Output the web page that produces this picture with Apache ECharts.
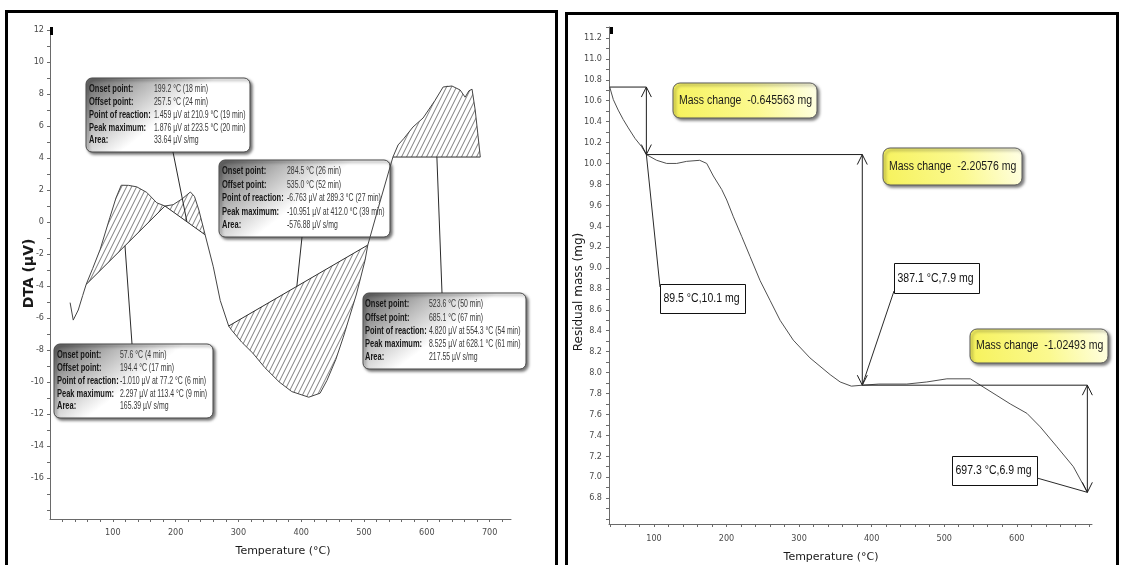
<!DOCTYPE html>
<html>
<head>
<meta charset="utf-8">
<script src="https://cdn.jsdelivr.net/npm/echarts@6/dist/echarts.min.js"></script>
<style>
  html, body { margin: 0; padding: 0; background: #fff; }
  #chart { width: 1121px; height: 565px; }
</style>
</head>
<body>
<div id="chart"></div>
<script>
// ---------- DTA trace: temperature (°C) and signal (µV) ----------
const dtaTemp = [32, 37, 45, 52, 57.6, 68, 80, 95.5, 105, 113.4, 125, 138, 154, 170, 183,
  196, 210.9, 223.5, 230, 237, 247, 260, 271, 284.5, 289.3, 305, 323, 342, 365, 385,
  412, 430, 441, 455, 467, 488, 501.6, 506, 525, 546, 554.3, 563, 578, 594, 613, 626,
  628.1, 640, 653, 661, 667, 672, 677, 681.5, 685.1];
const dtaSignal = [-5.04, -6.13, -5.5, -4.6, -3.9, -2.9, -1.7, 0.3, 1.5, 2.297, 2.29, 2.2, 1.85, 1.2, 1.0,
  1.08, 1.459, 1.876, 1.6, 0.75, -0.8, -2.8, -4.9, -6.5, -6.763, -7.5, -8.2, -9.1, -10.0, -10.6,
  -10.951, -10.7, -9.9, -8.6, -7.2, -4.5, -2.4, -1.44, 1.2, 4.06, 4.82, 5.2, 5.94, 6.5, 7.6, 8.44,
  8.525, 8.5, 8.25, 7.8, 8.2, 8.3, 7.0, 5.4, 4.06];

// Integrated DTA peaks: start / end temperature of each hatched area on the trace
const peakStartTemp = [57.6, 183, 284.5, 546];
const peakEndTemp = [183, 247, 506, 685.1];
// Temperature at which each report's pointer meets the peak baseline
const peakPointerTemp = [119.4, 218, 393, 616];

const peakReportRows = ['Onset point:', 'Offset point:', 'Point of reaction:', 'Peak maximum:', 'Area:'];
const peakReports = [
  ['57.6 \u00b0C (4 min)', '194.4 \u00b0C (17 min)', '-1.010 \u00b5V at 77.2 \u00b0C (6 min)', '2.297 \u00b5V at 113.4 \u00b0C (9 min)', '165.39 \u00b5V s/mg'],
  ['199.2 \u00b0C (18 min)', '257.5 \u00b0C (24 min)', '1.459 \u00b5V at 210.9 \u00b0C (19 min)', '1.876 \u00b5V at 223.5 \u00b0C (20 min)', '33.64 \u00b5V s/mg'],
  ['284.5 \u00b0C (26 min)', '535.0 \u00b0C (52 min)', '-6.763 \u00b5V at 289.3 \u00b0C (27 min)', '-10.951 \u00b5V at 412.0 \u00b0C (39 min)', '-576.88 \u00b5V s/mg'],
  ['523.6 \u00b0C (50 min)', '685.1 \u00b0C (67 min)', '4.820 \u00b5V at 554.3 \u00b0C (54 min)', '8.525 \u00b5V at 628.1 \u00b0C (61 min)', '217.55 \u00b5V s/mg']
];

// ---------- TG trace: temperature (°C) and residual mass (mg) ----------
const tgTemp = [39, 44, 50.7, 57.6, 64.6, 73.8, 83, 89.5, 103.7, 117.5, 131.3, 145, 163, 172.7,
  181.8, 193.4, 200.3, 209.4, 221, 232.4, 246.2, 260, 273.8, 292, 315, 342.8, 356.6, 372,
  387.1, 410, 448.5, 476, 503.7, 536, 549.7, 572.7, 591, 614, 632.4, 655.4, 678, 697.3];
const tgMass = [10.7306, 10.61, 10.51, 10.42, 10.34, 10.24, 10.16, 10.085, 10.03, 10.0, 10.0, 10.02, 10.03, 10.0,
  9.88, 9.75, 9.65, 9.49, 9.30, 9.11, 8.88, 8.69, 8.50, 8.31, 8.14, 7.98, 7.91, 7.87,
  7.879, 7.89, 7.89, 7.91, 7.94, 7.94, 7.88, 7.78, 7.70, 7.61, 7.48, 7.29, 7.10, 6.854];

// Mass-loss steps
const tgStartTemp = 39;
const tgStartMass = 10.7306;
const stepTemp = [89.5, 387.1, 697.3];
const massChange = [-0.645563, -2.20576, -1.02493];

// ---------- Tick labels ----------
const dtaTempLabels = [100, 200, 300, 400, 500, 600, 700];
const dtaSignalLabels = [-16, -14, -12, -10, -8, -6, -4, -2, 0, 2, 4, 6, 8, 10, 12];
const tgTempLabels = [100, 200, 300, 400, 500, 600];
const tgMassLabels = [6.8, 7.0, 7.2, 7.4, 7.6, 7.8, 8.0, 8.2, 8.4, 8.6, 8.8, 9.0, 9.2, 9.4,
  9.6, 9.8, 10.0, 10.2, 10.4, 10.6, 10.8, 11.0, 11.2];

// ---------- helpers ----------
function tickRange(a, b, step, dec) {
  const out = [];
  for (let k = 0; a + k * step <= b + 1e-9; k++) out.push(+(a + k * step).toFixed(dec));
  return out;
}
const stepLevels = [tgStartMass];
massChange.forEach((d, i) => stepLevels.push(stepLevels[i] + d));

// diagonal hatching used inside the integrated DTA peaks
const hatch = document.createElement('canvas');
hatch.width = 5; hatch.height = 10;
(function () {
  const c = hatch.getContext('2d');
  c.strokeStyle = '#6e6e6e';
  c.lineWidth = 0.9;
  c.beginPath();
  c.moveTo(0, 10); c.lineTo(5, 0);
  c.moveTo(-5, 10); c.lineTo(0, 0);
  c.moveTo(5, 10); c.lineTo(10, 0);
  c.stroke();
})();

const tickFont = { fontSize: 9, color: '#4a4a4a', fontFamily: '"Liberation Sans Narrow", "DejaVu Sans Condensed", "Liberation Sans", sans-serif' };
const nameFont = { fontFamily: '"DejaVu Sans", Verdana, sans-serif', color: '#1a1a1a' };
const axisLineStyle = { color: '#6a6a6a', width: 1 };

const chart = echarts.init(document.getElementById('chart'));

const option = {
  animation: false,
  backgroundColor: '#ffffff',
  grid: [
    { left: 50, top: 28, width: 461, height: 491, outerBoundsMode: 'none' },
    { left: 609, top: 27, width: 483, height: 497, outerBoundsMode: 'none' }
  ],
  xAxis: [
    {
      gridIndex: 0, type: 'value', min: 0, max: 734,
      splitLine: { show: false },
      axisLine: { show: true, onZero: false, lineStyle: axisLineStyle },
      axisTick: { show: true, customValues: tickRange(20, 720, 20, 0), length: 3, lineStyle: axisLineStyle },
      axisLabel: Object.assign({ customValues: dtaTempLabels, margin: 9 }, tickFont),
      name: 'Temperature (\u00b0C)', nameLocation: 'middle', nameGap: 27, nameMoveOverlap: false,
      nameTextStyle: Object.assign({ fontSize: 11, padding: [0, 0, 0, 5] }, nameFont)
    },
    {
      gridIndex: 1, type: 'value', min: 38, max: 703.7,
      splitLine: { show: false },
      axisLine: { show: true, onZero: false, lineStyle: axisLineStyle },
      axisTick: { show: true, customValues: tickRange(40, 700, 20, 0), length: 3, lineStyle: axisLineStyle },
      axisLabel: Object.assign({ customValues: tgTempLabels, margin: 10 }, tickFont),
      name: 'Temperature (\u00b0C)', nameLocation: 'middle', nameGap: 28, nameMoveOverlap: false,
      nameTextStyle: Object.assign({ fontSize: 11, padding: [0, 39, 0, 0] }, nameFont)
    }
  ],
  yAxis: [
    {
      gridIndex: 0, type: 'value', min: -18.5625, max: 12.125,
      splitLine: { show: false },
      axisLine: { show: true, onZero: false, lineStyle: axisLineStyle },
      axisTick: { show: true, customValues: tickRange(-18, 12, 1, 0), length: 3, lineStyle: axisLineStyle },
      axisLabel: Object.assign({ customValues: dtaSignalLabels, margin: 6 }, tickFont),
      name: 'DTA (\u00b5V)', nameLocation: 'middle', nameGap: 14, nameMoveOverlap: false,
      nameTextStyle: Object.assign({ fontSize: 14, fontWeight: 'bold' }, nameFont)
    },
    {
      gridIndex: 1, type: 'value', min: 6.5515, max: 11.305,
      splitLine: { show: false },
      axisLine: { show: true, onZero: false, lineStyle: axisLineStyle },
      axisTick: { show: true, customValues: tickRange(6.6, 11.3, 0.1, 1), length: 3, lineStyle: axisLineStyle },
      axisLabel: Object.assign({ customValues: tgMassLabels, margin: 7, formatter: v => v.toFixed(1) }, tickFont),
      name: 'Residual mass (mg)', nameLocation: 'middle', nameGap: 24, nameMoveOverlap: false,
      nameTextStyle: Object.assign({ fontSize: 12, padding: [0, 33, 0, 0] }, nameFont)
    }
  ],
  series: [
    {
      name: 'DTA', type: 'line', xAxisIndex: 0, yAxisIndex: 0, z: 4,
      data: dtaTemp.map((t, i) => [t, dtaSignal[i]]),
      showSymbol: false, symbol: 'none', smooth: false,
      lineStyle: { color: '#454545', width: 1 }
    },
    {
      name: 'DTA peaks', type: 'custom', xAxisIndex: 0, yAxisIndex: 0, z: 3,
      data: peakStartTemp.map((t, i) => [t, i]),
      renderItem: function (params, api) {
        const i = params.dataIndex;
        const pts = [];
        dtaTemp.forEach((t, j) => {
          if (t >= peakStartTemp[i] - 1e-9 && t <= peakEndTemp[i] + 1e-9) pts.push(api.coord([t, dtaSignal[j]]));
        });
        const first = pts[0], last = pts[pts.length - 1];
        return {
          type: 'group',
          children: [
            { type: 'polygon', shape: { points: pts }, style: { fill: { image: hatch, repeat: 'repeat' }, stroke: null } },
            { type: 'line', shape: { x1: first[0], y1: first[1], x2: last[0], y2: last[1] }, style: { stroke: '#2e2e2e', lineWidth: 1 } }
          ]
        };
      }
    },
    {
      name: 'TG', type: 'line', xAxisIndex: 1, yAxisIndex: 1, z: 4,
      data: tgTemp.map((t, i) => [t, tgMass[i]]),
      showSymbol: false, symbol: 'none', smooth: false,
      lineStyle: { color: '#505050', width: 1 }
    },
    {
      name: 'Mass change', type: 'custom', xAxisIndex: 1, yAxisIndex: 1, z: 5,
      data: stepTemp.map((t, i) => [t, stepLevels[i + 1]]),
      renderItem: function (params, api) {
        const i = params.dataIndex;
        const t0 = i === 0 ? tgStartTemp : stepTemp[i - 1];
        const a = api.coord([t0, stepLevels[i]]);
        const b = api.coord([stepTemp[i], stepLevels[i]]);
        const c = api.coord([stepTemp[i], stepLevels[i + 1]]);
        const s = { stroke: '#1e1e1e', lineWidth: 1, fill: null };
        return {
          type: 'group',
          children: [
            { type: 'polyline', shape: { points: [a, b, c] }, style: s },
            { type: 'polyline', shape: { points: [[b[0] - 5, b[1] + 10], b, [b[0] + 5, b[1] + 10]] }, style: s },
            { type: 'polyline', shape: { points: [[c[0] - 5, c[1] - 10], c, [c[0] + 5, c[1] - 10]] }, style: s }
          ]
        };
      }
    }
  ]
};
chart.setOption(option);

// ---------- callouts ----------
const Z = 100;
const greyFill = () => new echarts.graphic.LinearGradient(0, 0, 0.35, 1, [
  { offset: 0, color: '#5c5c5c' }, { offset: 0.45, color: '#b9b9b9' }, { offset: 0.85, color: '#ffffff' }, { offset: 1, color: '#ffffff' }
]);
const yellowFill = () => new echarts.graphic.LinearGradient(0, 1, 1, 0, [
  { offset: 0, color: '#f6f25a' }, { offset: 0.55, color: '#fbf98f' }, { offset: 1, color: '#ffffe8' }
]);

// report boxes of the DTA panel (box frame, pointer attach point)
const reportBoxes = [
  { x: 54, y: 344, w: 159, h: 74, labelX: 3, valueX: 66, ax: 132, ay: 344 },
  { x: 86, y: 78, w: 164, h: 74, labelX: 3, valueX: 68, ax: 173, ay: 152 },
  { x: 219, y: 160, w: 171, h: 77, labelX: 3, valueX: 68, ax: 302, ay: 237 },
  { x: 363, y: 293, w: 163, h: 76, labelX: 2, valueX: 66, ax: 442, ay: 293 }
];

const graphics = [];
// panel frames
graphics.push({ type: 'rect', z: Z + 5, shape: { x: 6.5, y: 11.5, width: 550, height: 580 }, style: { fill: null, stroke: '#000', lineWidth: 3 } });
graphics.push({ type: 'rect', z: Z + 5, shape: { x: 566.5, y: 13.5, width: 551, height: 580 }, style: { fill: null, stroke: '#000', lineWidth: 3 } });
// cursor marks at the top of both signal axes
graphics.push({ type: 'rect', z: Z, shape: { x: 50, y: 27, width: 3, height: 8 }, style: { fill: '#000' } });
graphics.push({ type: 'rect', z: Z, shape: { x: 610, y: 27, width: 3, height: 7 }, style: { fill: '#000' } });

reportBoxes.forEach((b, i) => {
  const on = dtaTemp.indexOf(peakStartTemp[i]);
  const off = dtaTemp.indexOf(peakEndTemp[i]);
  const tp = peakPointerTemp[i];
  const vp = dtaSignal[on] + (dtaSignal[off] - dtaSignal[on]) * (tp - peakStartTemp[i]) / (peakEndTemp[i] - peakStartTemp[i]);
  const p = chart.convertToPixel({ gridIndex: 0 }, [tp, vp]);
  graphics.push({ type: 'line', z: Z, shape: { x1: b.ax, y1: b.ay, x2: p[0], y2: p[1] }, style: { stroke: '#2a2a2a', lineWidth: 1 } });
  const children = [
    { type: 'rect', shape: { x: 0, y: 0, width: b.w, height: b.h, r: 6 },
      style: { fill: greyFill(), stroke: '#4a4a4a', lineWidth: 1, shadowBlur: 3, shadowOffsetX: 2, shadowOffsetY: 2, shadowColor: 'rgba(0,0,0,0.55)' } }
  ];
  const gap = (b.h - 23) / 4;
  peakReportRows.forEach((row, r) => {
    const yy = 11.5 + r * gap;
    children.push({ type: 'text', x: b.labelX, y: yy, scaleX: 0.75,
      style: { text: row, fontSize: 10, fontWeight: 'bold', fontFamily: '"Liberation Sans", Arial, sans-serif', fill: '#161616', align: 'left', verticalAlign: 'middle' } });
    children.push({ type: 'text', x: b.valueX, y: yy, scaleX: 0.69,
      style: { text: peakReports[i][r], fontSize: 10, fontFamily: '"Liberation Sans", Arial, sans-serif', fill: '#383838', align: 'left', verticalAlign: 'middle' } });
  });
  graphics.push({ type: 'group', z: Z + 1, x: b.x, y: b.y, children: children });
});

// TG panel: value callouts and mass-change notes
const valueBoxes = [
  { x: 660, y: 284, w: 85, h: 29, ax: 660, ay: 287 },
  { x: 894, y: 263, w: 85, h: 30, ax: 894, ay: 291 },
  { x: 952, y: 456, w: 85, h: 29, ax: 1037, ay: 478 }
];
valueBoxes.forEach((b, i) => {
  const p = chart.convertToPixel({ gridIndex: 1 }, [stepTemp[i], stepLevels[i + 1]]);
  graphics.push({ type: 'line', z: Z, shape: { x1: b.ax, y1: b.ay, x2: p[0], y2: p[1] }, style: { stroke: '#2a2a2a', lineWidth: 1 } });
  graphics.push({ type: 'group', z: Z + 1, x: b.x, y: b.y, children: [
    { type: 'rect', shape: { x: 0.5, y: 0.5, width: b.w, height: b.h }, style: { fill: '#fff', stroke: '#111', lineWidth: 1 } },
    { type: 'text', x: 3.5, y: b.h / 2 + 0.5, scaleX: 0.84,
      style: { text: stepTemp[i].toFixed(1) + ' \u00b0C,' + stepLevels[i + 1].toFixed(1) + ' mg', fontSize: 12.5,
        fontFamily: '"Liberation Sans", Arial, sans-serif', fill: '#111', align: 'left', verticalAlign: 'middle' } }
  ] });
});

const noteBoxes = [
  { x: 673, y: 83, w: 144, h: 35 },
  { x: 883, y: 148, w: 139, h: 37 },
  { x: 970, y: 329, w: 138, h: 34 }
];
noteBoxes.forEach((b, i) => {
  graphics.push({ type: 'group', z: Z + 1, x: b.x, y: b.y, children: [
    { type: 'rect', shape: { x: 0, y: 0, width: b.w, height: b.h, r: 7 },
      style: { fill: yellowFill(), stroke: '#5a5a5a', lineWidth: 1, shadowBlur: 3, shadowOffsetX: 2, shadowOffsetY: 2, shadowColor: 'rgba(0,0,0,0.5)' } },
    { type: 'text', x: 6, y: b.h / 2, scaleX: 0.84,
      style: { text: 'Mass change  ' + massChange[i] + ' mg', fontSize: 12.5,
        fontFamily: '"Liberation Sans", Arial, sans-serif', fill: '#1a1a1a', align: 'left', verticalAlign: 'middle' } }
  ] });
});

chart.setOption({ graphic: { elements: graphics } });
</script>
</body>
</html>
